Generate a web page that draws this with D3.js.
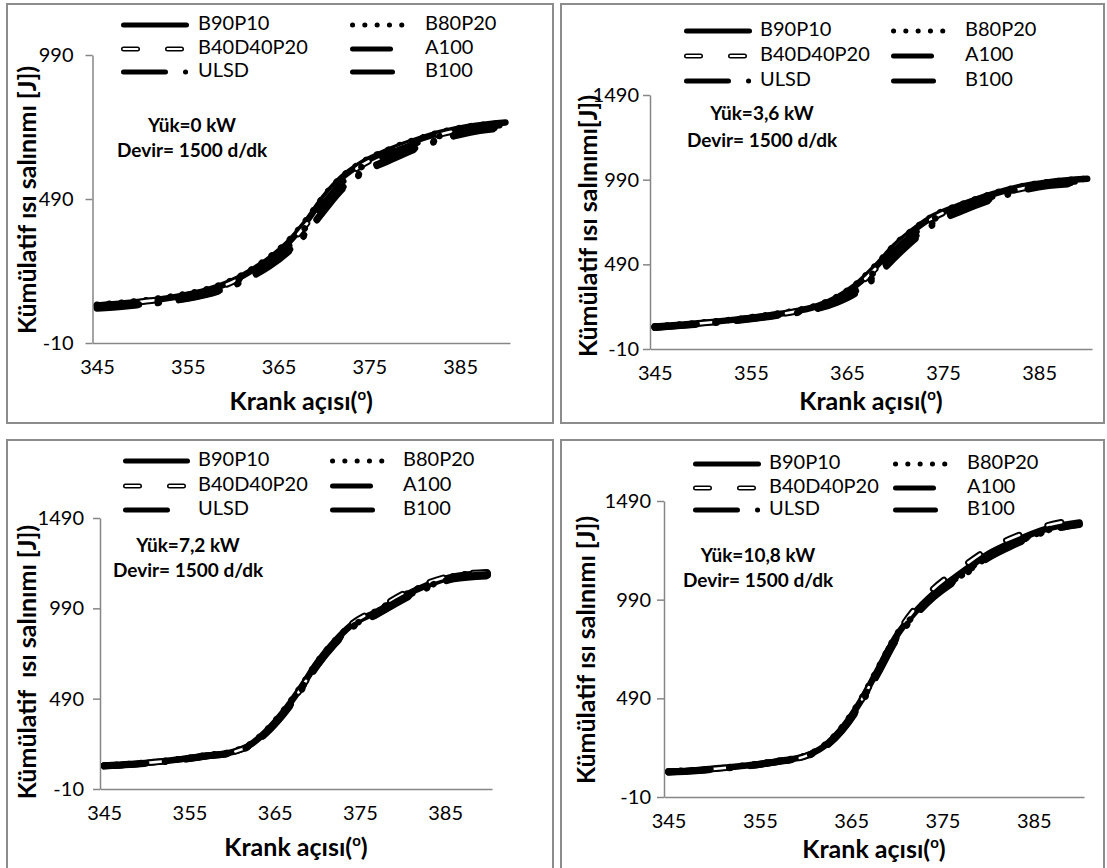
<!DOCTYPE html>
<html>
<head>
<meta charset="utf-8">
<script src="https://cdn.jsdelivr.net/npm/d3@7"></script>
<style>
  body { margin: 0; background: #fff; }
  svg text { font-family: Lato, "Open Sans", sans-serif; fill: #000; }
</style>
</head>
<body>
<svg id="chart" width="1107" height="868"></svg>
<script>
// Fuel blends, in legend order
const seriesNames = ["B90P10", "B80P20", "B40D40P20", "A100", "ULSD", "B100"];

// Crank angle (°) sample points shared by every curve
const crankAngles = [345, 348, 351, 354, 357, 360, 362, 364, 366, 368, 370, 372, 374, 377, 380, 383, 386, 390];

// Axis tick labels
const xTickValues = [345, 355, 365, 375, 385];
const yTicksLow = [-10, 490, 990];
const yTicksHigh = [-10, 490, 990, 1490];

// Operating-point labels
const loadLabels = ["Yük=0 kW", "Yük=3,6 kW", "Yük=7,2 kW", "Yük=10,8 kW"];
const speedLabel = "Devir= 1500 d/dk";
const yTitles = ["Kümülatif ısı salınımı [J])", "Kümülatif ısı salınımı[J])",
                 "Kümülatif  ısı salınımı [J])", "Kümülatif ısı salınımı [J])"];

// Cumulative heat release [J], one row per blend (seriesNames order)
const heatLoad0 = [
  [120, 128, 138, 152, 172, 206, 241, 282, 336, 409, 496, 565, 611, 657, 692, 721, 741, 756],
  [123, 131, 141, 156, 176, 210, 245, 288, 342, 415, 500, 568, 614, 660, 695, 723, 742, 754],
  [119, 127, 137, 151, 170, 203, 237, 277, 330, 400, 485, 556, 604, 651, 688, 716, 736, 750],
  [117, 125, 135, 149, 168, 200, 233, 272, 323, 392, 475, 548, 598, 644, 682, 711, 732, 748],
  [112, 119, 128, 141, 159, 190, 222, 260, 308, 372, 452, 528, 580, 626, 666, 700, 724, 740],
  [110, 117, 126, 139, 157, 188, 219, 256, 304, 368, 448, 523, 575, 620, 662, 696, 720, 736]
];
const heatLoad36 = [
  [122, 135, 150, 168, 190, 217, 245, 294, 369, 477, 600, 695, 773, 843, 902, 947, 975, 995],
  [124, 137, 152, 170, 193, 221, 250, 300, 376, 485, 607, 700, 778, 846, 905, 949, 976, 996],
  [120, 133, 148, 166, 188, 214, 240, 287, 360, 466, 588, 685, 765, 836, 893, 935, 960, 975],
  [118, 131, 146, 164, 186, 211, 236, 280, 350, 452, 574, 672, 755, 828, 888, 936, 964, 985],
  [117, 130, 144, 162, 183, 208, 232, 272, 335, 430, 548, 650, 738, 815, 878, 928, 958, 978],
  [116, 128, 143, 160, 181, 205, 228, 265, 322, 415, 530, 635, 725, 805, 870, 922, 954, 968]
];
const heatLoad72 = [
  [120, 128, 140, 155, 175, 194, 231, 309, 416, 546, 690, 805, 897, 972, 1055, 1120, 1166, 1184],
  [121, 129, 141, 157, 177, 197, 235, 314, 422, 552, 694, 808, 900, 978, 1060, 1124, 1168, 1188],
  [119, 127, 139, 154, 174, 193, 229, 305, 410, 540, 684, 802, 902, 985, 1068, 1132, 1172, 1190],
  [118, 126, 138, 153, 173, 192, 228, 303, 408, 537, 680, 796, 888, 962, 1045, 1112, 1158, 1178],
  [117, 125, 137, 152, 172, 191, 226, 300, 404, 532, 676, 792, 884, 958, 1040, 1108, 1155, 1172],
  [116, 124, 136, 151, 171, 190, 225, 298, 400, 528, 672, 788, 880, 955, 1036, 1104, 1152, 1168]
];
const heatLoad108 = [
  [119, 126, 138, 152, 172, 198, 246, 338, 473, 641, 809, 927, 1019, 1124, 1221, 1288, 1344, 1381],
  [120, 127, 139, 154, 174, 200, 250, 344, 480, 648, 815, 930, 1010, 1110, 1205, 1275, 1335, 1375],
  [118, 125, 137, 151, 171, 197, 244, 335, 470, 640, 815, 945, 1045, 1150, 1245, 1310, 1360, 1398],
  [117, 124, 136, 150, 170, 196, 242, 332, 465, 632, 800, 918, 1010, 1115, 1212, 1280, 1338, 1376],
  [116, 123, 135, 149, 169, 195, 240, 328, 460, 626, 795, 912, 1004, 1108, 1205, 1275, 1333, 1370],
  [115, 122, 134, 148, 168, 194, 238, 325, 455, 620, 790, 908, 1000, 1102, 1200, 1270, 1330, 1372]
];

// Line styles per blend
const lineStyles = {
  B90P10:    { dash: null },
  B80P20:    { dash: "0.1 12.2" },
  B40D40P20: { dash: "14 30", hollow: true },
  A100:      { dash: "38 23 0.1 23" },
  ULSD:      { dash: "42 20 0.1 20" },
  B100:      { dash: "40 21 0.1 21" }
};

// Panel geometry
const panels = [
  { values: heatLoad0, yTicks: yTicksLow, yTop: 990,
    frame: [7, 4, 553, 423], xr: [92.5, 510], yr: [343, 55], labelGap: 19, xLabelY: 369,
    legendRows: [25, 49, 72], c1: [121, 189], t1: 198, c2: [350, 416], t2: 425,
    note: [192, 127, 152], yTitle: [30, 200], xTitleY: 404 },
  { values: heatLoad36, yTicks: yTicksHigh, yTop: 1490,
    frame: [561, 4, 1104, 423], xr: [650, 1092], yr: [349, 95], labelGap: 11, xLabelY: 375,
    legendRows: [31, 56, 81], c1: [684, 752], t1: 760, c2: [891, 956], t2: 965,
    note: [762, 115, 142], yTitle: [591, 226], xTitleY: 404 },
  { values: heatLoad72, yTicks: yTicksHigh, yTop: 1490,
    frame: [7, 440, 553, 880], xr: [100, 492], yr: [789, 518], labelGap: 16, xLabelY: 815,
    legendRows: [461, 486, 510], c1: [123, 190], t1: 198, c2: [330, 394], t2: 403,
    note: [188, 547, 572], yTitle: [30, 662], xTitleY: 850 },
  { values: heatLoad108, yTicks: yTicksHigh, yTop: 1490,
    frame: [561, 440, 1104, 880], xr: [664, 1084], yr: [797, 501], labelGap: 13, xLabelY: 823,
    legendRows: [464, 488, 510], c1: [693, 761], t1: 769, c2: [893, 958], t2: 967,
    note: [758, 557, 582], yTitle: [589, 650], xTitleY: 852 }
];

const svg = d3.select("#chart");
const axisGrey = "#868686";
const frameGrey = "#8c8c8c";
const plainNumber = d => String(d);

function strokePath(g, d, name, width) {
  const st = lineStyles[name];
  const p = g.append("path").attr("d", d)
    .attr("fill", "none").attr("stroke", "#000")
    .attr("stroke-width", width)
    .attr("stroke-linecap", "round").attr("stroke-linejoin", "round");
  if (st.dash) p.attr("stroke-dasharray", st.dash);
  if (st.hollow) {
    g.append("path").attr("d", d)
      .attr("fill", "none").attr("stroke", "#fff")
      .attr("stroke-width", width * 0.4)
      .attr("stroke-linecap", "round").attr("stroke-linejoin", "round")
      .attr("stroke-dasharray", st.dash);
  }
}

panels.forEach((pn, pi) => {
  const g = svg.append("g");
  const [fx0, fy0, fx1, fy1] = pn.frame;
  g.append("rect").attr("x", fx0).attr("y", fy0)
    .attr("width", fx1 - fx0).attr("height", fy1 - fy0)
    .attr("fill", "#fff").attr("stroke", frameGrey).attr("stroke-width", 2);

  const x = d3.scaleLinear().domain([344.5, 390.5]).range(pn.xr);
  const y = d3.scaleLinear().domain([-10, pn.yTop]).range(pn.yr);

  // y axis with outward ticks
  const yAxis = d3.axisLeft(y).tickValues(pn.yTicks).tickFormat(plainNumber)
    .tickSize(7).tickSizeOuter(0).tickPadding(pn.labelGap - 7);
  const ya = g.append("g").attr("transform", `translate(${pn.xr[0]},0)`).call(yAxis);
  ya.attr("font-size", 20).attr("font-family", "Lato, sans-serif");
  ya.select(".domain").attr("stroke", axisGrey).attr("stroke-width", 1.5);
  ya.selectAll(".tick line").attr("stroke", axisGrey).attr("stroke-width", 1.5);
  ya.selectAll(".tick text").attr("fill", "#000");

  // x axis: line with centred labels, no tick marks
  const xAxis = d3.axisBottom(x).tickValues(xTickValues).tickFormat(plainNumber)
    .tickSize(0).tickSizeOuter(0);
  const xa = g.append("g").attr("transform", `translate(0,${pn.yr[0]})`).call(xAxis);
  xa.attr("font-size", 20).attr("font-family", "Lato, sans-serif");
  xa.select(".domain").attr("stroke", axisGrey).attr("stroke-width", 1.5);
  xa.selectAll(".tick text").attr("fill", "#000").attr("dy", null)
    .attr("y", pn.xLabelY - pn.yr[0]).attr("dominant-baseline", "middle");

  // curves
  const line = d3.line().x((d, i) => x(crankAngles[i])).y(d => y(d)).curve(d3.curveMonotoneX);
  const curves = g.append("g");
  seriesNames.forEach((name, si) => {
    strokePath(curves, line(pn.values[si]), name, 6.5);
  });

  // legend, two columns by three rows
  const leg = g.append("g");
  seriesNames.forEach((name, si) => {
    const col = si % 2, row = Math.floor(si / 2);
    const yy = pn.legendRows[row];
    const span = col === 0 ? pn.c1 : pn.c2;
    const tx = col === 0 ? pn.t1 : pn.t2;
    strokePath(leg, `M${span[0] + 2.5},${yy}H${span[1] - 2.5}`, name, 5);
    leg.append("text").attr("x", tx).attr("y", yy).attr("dominant-baseline", "middle")
      .attr("font-size", 20).text(name);
  });

  // operating point note
  g.append("text").attr("x", pn.note[0]).attr("y", pn.note[1]).attr("text-anchor", "middle")
    .attr("dominant-baseline", "middle").attr("font-weight", 700).attr("font-size", 19).text(loadLabels[pi]);
  g.append("text").attr("x", pn.note[0]).attr("y", pn.note[2]).attr("text-anchor", "middle")
    .attr("dominant-baseline", "middle").attr("font-weight", 700).attr("font-size", 19).text(speedLabel);

  // axis titles
  g.append("text").attr("transform", `translate(${pn.yTitle[0]},${pn.yTitle[1]}) rotate(-90)`)
    .attr("text-anchor", "middle").attr("dominant-baseline", "middle")
    .attr("font-weight", 700).attr("font-size", 25).attr("xml:space", "preserve").text(yTitles[pi]);
  const xt = g.append("text").attr("x", (pn.xr[0] + pn.xr[1]) / 2).attr("y", pn.xTitleY)
    .attr("text-anchor", "middle").attr("dominant-baseline", "middle")
    .attr("font-weight", 700).attr("font-size", 25);
  xt.append("tspan").text("Krank açısı(");
  xt.append("tspan").attr("font-size", 15).attr("dy", -8).text("o");
  xt.append("tspan").attr("dy", 8).text(")");
});
</script>
</body>
</html>
